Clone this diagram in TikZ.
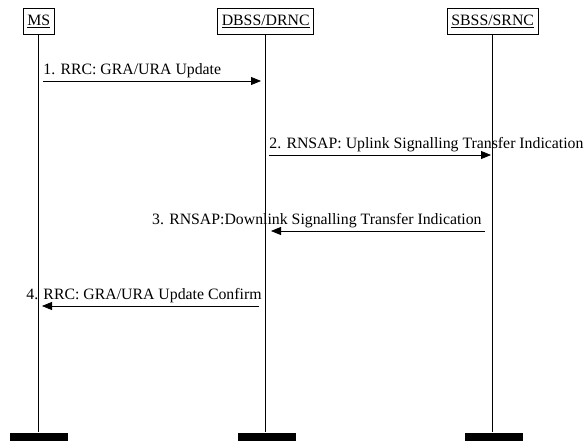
\documentclass[tikz,border=0pt]{standalone}
\usepackage{fontspec}
\setmainfont{Liberation Serif}
\usetikzlibrary{positioning, arrows.meta}

\begin{document}
\begin{tikzpicture}[x=1pt,y=-1pt,>={Triangle[length=10pt,width=8pt]},line width=0.8pt,
  entity/.style={draw,inner xsep=4pt,inner ysep=0pt,minimum height=26pt,font=\fontsize{15.8}{18}\selectfont},
  msg/.style={font=\fontsize{15.8}{18}\selectfont,inner sep=0pt},
  endbar/.style={fill=black,minimum width=58pt,minimum height=8pt,inner sep=0pt,anchor=south}]
\useasboundingbox (0,0) rectangle (586,441);
% entities and their lifelines
\node[entity] (ms) at (38.7,21) {\underline{MS}};
\node[entity] (drnc) at (265.7,21) {\underline{DBSS/DRNC}};
\node[entity] (srnc) at (492.7,21) {\underline{SBSS/SRNC}};
\node[endbar] (msend) at (38.7,441) {};
\node[endbar] (drncend) at (266.5,441) {};
\node[endbar] (srncend) at (494,441) {};
\draw (ms) -- (ms |- msend.north);
\draw (drnc) -- (drnc |- drncend.north);
\draw (srnc) -- (srnc |- srncend.north);
% messages
\coordinate (m1a) at (43,81);  \coordinate (m1b) at (261,81);
\coordinate (m2a) at (269,155); \coordinate (m2b) at (491,155);
\coordinate (m3a) at (485,231); \coordinate (m3b) at (271,231);
\coordinate (m4a) at (259,306); \coordinate (m4b) at (42,306);
\draw[->] (m1a) -- (m1b) node[msg,pos=0,anchor=base west,yshift=6pt] {1. RRC: GRA/URA Update};
\draw[->] (m2a) -- (m2b) node[msg,pos=0,anchor=base west,yshift=6pt] {2. RNSAP: Uplink Signalling Transfer Indication};
\draw[->] (m3a) -- (m3b) node[msg,pos=0,anchor=base east,xshift=-3pt,yshift=7pt] {3. RNSAP:Downlink Signalling Transfer Indication};
\draw[->] (m4a) -- (m4b) node[msg,pos=0,anchor=base east,xshift=3pt,yshift=7pt] {4. RRC: GRA/URA Update Confirm};
\end{tikzpicture}
\end{document}
